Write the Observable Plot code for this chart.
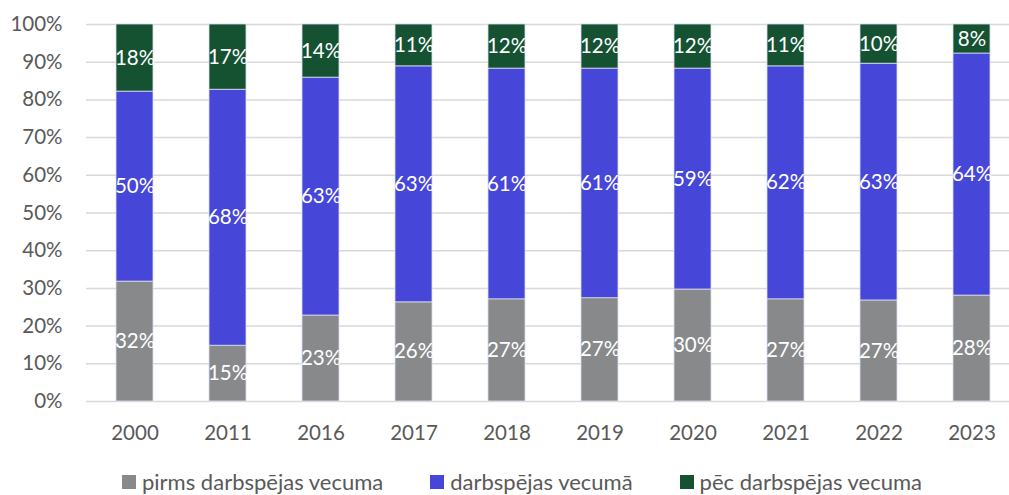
<!DOCTYPE html>
<html>
<head>
<meta charset="utf-8">
<script src="https://cdn.jsdelivr.net/npm/d3@7"></script>
<script src="https://cdn.jsdelivr.net/npm/@observablehq/plot@0.6"></script>
<style>
  body { margin: 0; background: #fff; font-family: Lato, "Open Sans", sans-serif; }
  #wrap { position: relative; width: 1009px; height: 495px; overflow: hidden; }
  #legend { position: absolute; left: 122px; top: 470px; display: flex; gap: 47px; font-size: 22px; line-height: 24px; color: #595959; white-space: nowrap; }
  .item { display: flex; align-items: center; gap: 6px; }
  .sw { width: 14px; height: 14px; display: inline-block; }
</style>
</head>
<body>
<div id="wrap"><div id="chart"></div><div id="legend"></div></div>
<script>
const years = ["2000","2011","2016","2017","2018","2019","2020","2021","2022","2023"];
const seriesNames = ["pirms darbspējas vecuma", "darbspējas vecumā", "pēc darbspējas vecuma"];
const pirms = [31.8, 14.8, 22.8, 26.3, 27.1, 27.4, 29.7, 27.1, 26.8, 28.1];
const darbspejas = [50.4, 67.9, 63.1, 62.6, 61.2, 60.9, 58.6, 61.8, 62.8, 64.2];
const pec = [17.8, 17.3, 14.1, 11.1, 11.7, 11.7, 11.7, 11.1, 10.4, 7.7];
const colors = ["#87898B", "#4646D8", "#145232"];
const yTicks = [0,10,20,30,40,50,60,70,80,90,100];

const seriesVals = [pirms, darbspejas, pec];
const rows = [];
years.forEach((y, i) => {
  seriesNames.forEach((s, k) => {
    rows.push({year: y, series: s, value: seriesVals[k][i], order: k});
  });
});

const chart = Plot.plot({
  width: 1009,
  height: 455,
  marginTop: 24,
  marginBottom: 54,
  marginLeft: 86,
  marginRight: 0,
  style: {fontFamily: "Lato, 'Open Sans', sans-serif", fontSize: "20px", color: "#595959", background: "#fff"},
  x: {domain: years, range: [85, 1021], paddingInner: 0.6, paddingOuter: 0.3, label: null},
  y: {domain: [0, 100], label: null},
  color: {domain: seriesNames, range: colors},
  marks: [
    Plot.ruleY(yTicks, {stroke: "#D9D9D9", strokeWidth: 1.5}),
    Plot.barY(rows, Plot.stackY({
      x: "year", y: "value", fill: "series", z: "series", order: seriesNames,
      stroke: "#DCDCF0", strokeWidth: 0.8
    })),
    Plot.text(rows, Plot.stackY({
      x: "year", y: "value", z: "series", order: seriesNames,
      text: d => Math.round(d.value) + "%",
      fill: "white", fontSize: 20.5
    })),
    Plot.axisY(yTicks, {tickSize: 0, tickPadding: 24, tickFormat: d => d + "%", fontSize: 20.5, fill: "#595959"}),
    Plot.axisX({tickSize: 0, tickPadding: 24, fontSize: 20.5, fill: "#595959"})
  ]
});
document.getElementById("chart").appendChild(chart);

const legend = document.getElementById("legend");
seriesNames.forEach((s, k) => {
  const item = document.createElement("div");
  item.className = "item";
  const sw = document.createElement("span");
  sw.className = "sw";
  sw.style.background = colors[k];
  const t = document.createElement("span");
  t.textContent = s;
  item.appendChild(sw); item.appendChild(t);
  legend.appendChild(item);
});
</script>
</body>
</html>
